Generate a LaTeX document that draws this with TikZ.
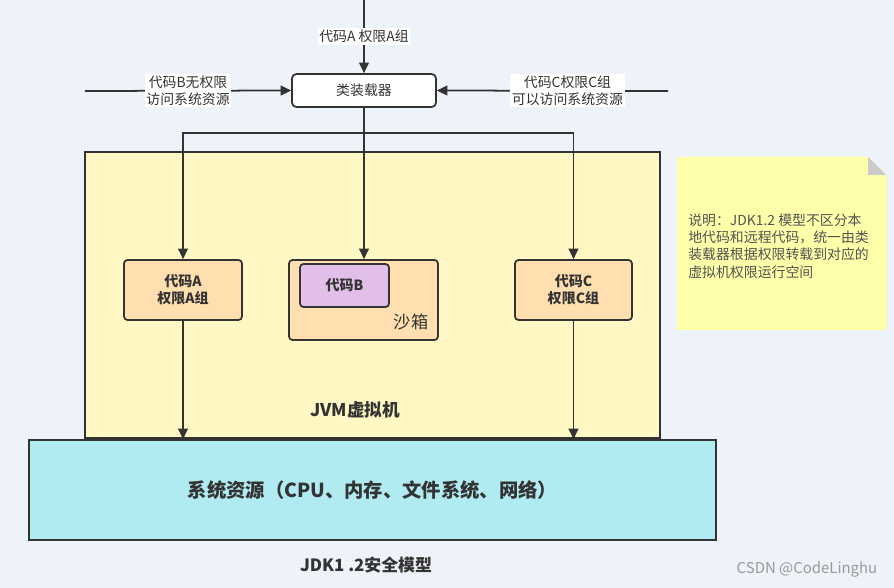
\documentclass[tikz,border=0pt]{standalone}
\usepackage{fontspec}
\setmainfont{Noto Sans CJK SC}
\usetikzlibrary{arrows.meta,calc,positioning}
\definecolor{bgblue}{HTML}{EEF2F9}
\definecolor{jvmyellow}{HTML}{FFF7C4}
\definecolor{codepeach}{HTML}{FFDFAF}
\definecolor{codepurple}{HTML}{E1BFE8}
\definecolor{rescyan}{HTML}{B1EBF2}
\definecolor{noteyellow}{HTML}{FFFFA9}
\definecolor{foldgray}{HTML}{CBCBCB}
\definecolor{linegray}{HTML}{333333}

\begin{document}
\begin{tikzpicture}[x=0.02cm,y=-0.02cm,
    line/.style={linegray,line width=1pt},
    arr/.style={line,-{Triangle[length=6pt,width=5.6pt]}},
    codebox/.style={draw=linegray,line width=1pt,rounded corners=2pt,fill=codepeach,
      font=\bfseries\fontsize{8}{9.6}\selectfont,align=center,text=linegray,inner sep=0pt},
    lbl/.style={fill=white,font=\fontsize{7.9}{9.4}\selectfont,align=center,text=linegray,inner sep=1pt}]
    \fill[bgblue] (0,0) rectangle (894,588);
    \useasboundingbox (0,0) rectangle (894,588);
    % JVM and system resources
    \node (jvm) [draw=linegray,line width=1pt,fill=jvmyellow,minimum width=11.5cm,minimum height=5.72cm] at (372.5,295) {};
    \node (jvmlbl) [font=\bfseries\fontsize{10}{12}\selectfont,text=linegray] at (355,410) {JVM虚拟机};
    \node (sysres) [draw=linegray,line width=1pt,fill=rescyan,minimum width=13.74cm,minimum height=2cm,
      font=\bfseries\fontsize{11}{13}\selectfont,text=linegray] at (372.5,490) {系统资源（CPU、内存、文件系统、网络）};
    % class loader
    \node (loader) [draw=linegray,line width=1pt,rounded corners=2.5pt,fill=white,minimum width=2.88cm,minimum height=0.66cm,
      font=\fontsize{7.9}{9.4}\selectfont,text=linegray] at (364,90.5) {类装载器};
    % code boxes
    \node (codeA) [codebox,minimum width=2.36cm,minimum height=1.2cm] at (183,290) {代码A\\权限A组};
    \node (sandbox) [codebox,minimum width=2.98cm,minimum height=1.6cm] at (363.5,300) {};
    \node (codeB) [codebox,fill=codepurple,minimum width=1.78cm,minimum height=0.86cm] at (344.5,285.5) {代码B};
    \node (sandlbl) [font=\fontsize{9.8}{11}\selectfont,text=linegray] at (411,322) {沙箱};
    \node (codeC) [codebox,minimum width=2.34cm,minimum height=1.2cm] at (573.5,290) {代码C\\权限C组};
    % incoming code
    \coordinate (topin) at (364,0);
    \coordinate (leftin) at (85,91);
    \coordinate (rightin) at (668,91);
    \draw[arr] (topin) -- (loader.north) node[lbl,midway] {代码A 权限A组};
    \draw[arr] (leftin) -- (loader.west) node[lbl,midway] {代码B无权限\\访问系统资源};
    \draw[arr] (rightin) -- (loader.east) node[lbl,pos=0.435] {代码C权限C组\\可以访问系统资源};
    % loading
    \coordinate (split) at (364,133);
    \draw[arr] (loader.south) -- (loader.south |- sandbox.north);
    \draw[arr] (loader.south) -- (split) -| (codeA.north);
    \draw[arr] (split) -| (codeC.north);
    \draw[arr] (codeA.south) -- (codeA.south |- sysres.north);
    \draw[arr] (codeC.south) -- (codeC.south |- sysres.north);
    % note
    \fill[noteyellow] (677,157) -- (868,157) -- (886,175) -- (886,330) -- (677,330) -- cycle;
    \fill[foldgray] (868,157) -- (868,175) -- (886,175) -- cycle;
    \node (note) [anchor=west,align=left,inner sep=0pt,text=linegray!85,font=\fontsize{7.9}{9.9}\selectfont] at (688,246)
      {说明：JDK1.2 模型不区分本\\地代码和远程代码，统一由类\\装载器根据权限转载到对应的\\虚拟机权限运行空间};
    % captions
    \node (title) [font=\bfseries\fontsize{9.6}{11}\selectfont,text=linegray] at (366,565) {JDK1 .2安全模型};
    \node (mark) [font=\fontsize{8.5}{10}\selectfont,text=gray!80] at (807,569) {CSDN @CodeLinghu};
  \end{tikzpicture}
\end{document}
